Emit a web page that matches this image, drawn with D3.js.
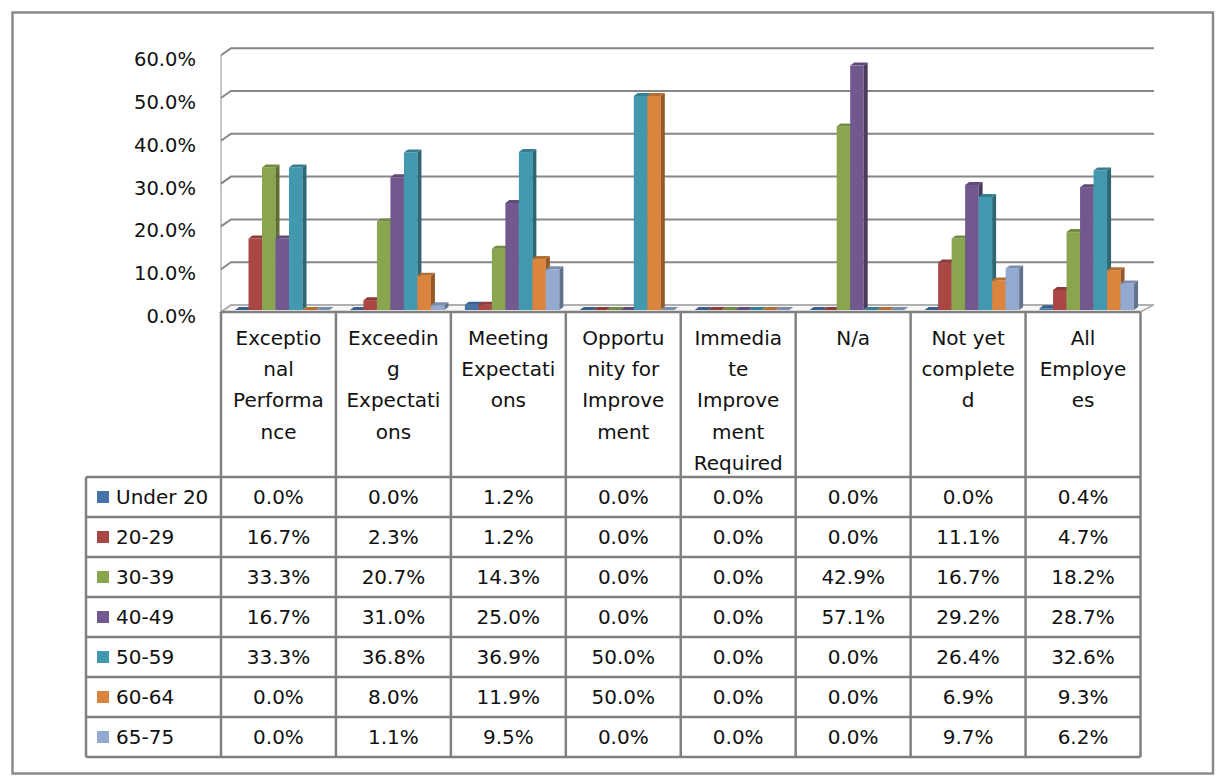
<!DOCTYPE html>
<html>
<head>
<meta charset="utf-8">
<script src="https://cdn.jsdelivr.net/npm/d3@7"></script>
<style>
  html, body { margin: 0; padding: 0; background: #fff; }
  svg { display: block; }
  text { font-family: "DejaVu Sans", sans-serif; fill: #111; }
</style>
</head>
<body>
<svg id="chart" width="1222" height="776"></svg>
<script>
// Performance rating by age group
const categories = [
  "Exceptional Performance", "Exceeding Expectations", "Meeting Expectations",
  "Opportunity for Improvement", "Immediate Improvement Required", "N/a",
  "Not yet completed", "All Employees"
];
// Category labels as they wrap inside the data-table header cells
const categoryLines = [
  ["Exceptio", "nal", "Performa", "nce"],
  ["Exceedin", "g", "Expectati", "ons"],
  ["Meeting", "Expectati", "ons"],
  ["Opportu", "nity for", "Improve", "ment"],
  ["Immedia", "te", "Improve", "ment", "Required"],
  ["N/a"],
  ["Not yet", "complete", "d"],
  ["All", "Employe", "es"]
];
const seriesNames = ["Under 20", "20-29", "30-39", "40-49", "50-59", "60-64", "65-75"];
const under20 = [0.0, 0.0, 1.2, 0.0, 0.0, 0.0, 0.0, 0.4];
const age20to29 = [16.7, 2.3, 1.2, 0.0, 0.0, 0.0, 11.1, 4.7];
const age30to39 = [33.3, 20.7, 14.3, 0.0, 0.0, 42.9, 16.7, 18.2];
const age40to49 = [16.7, 31.0, 25.0, 0.0, 0.0, 57.1, 29.2, 28.7];
const age50to59 = [33.3, 36.8, 36.9, 50.0, 0.0, 0.0, 26.4, 32.6];
const age60to64 = [0.0, 8.0, 11.9, 50.0, 0.0, 0.0, 6.9, 9.3];
const age65to75 = [0.0, 1.1, 9.5, 0.0, 0.0, 0.0, 9.7, 6.2];
const yTicks = [0, 10, 20, 30, 40, 50, 60];

const seriesValues = [under20, age20to29, age30to39, age40to49, age50to59, age60to64, age65to75];
const colors = ["#4572A7", "#AA4643", "#89A54E", "#71588F", "#4198AF", "#DB843D", "#93A9CF"];

const svg = d3.select("#chart");
const fmt = v => v.toFixed(1) + "%";

// Layout
const tableLeft = 86, plotLeft = 221, plotRight = 1140.5;
const headerTop = 312, rowsTop = 477, rowH = 40;
const wallDx = 10, wallDy = 7;   // depth of the walls
const barDx = 4, barDy = 3;      // depth of each column

const x = d3.scaleBand().domain(categories).range([plotLeft, plotRight]);
const xs = d3.scaleBand().domain(seriesNames).range([14, 14 + 7 * 13.5]);
const y = d3.scaleLinear().domain([0, 60]).range([310, 310 - 6 * 42.8]);
const yWall = v => y(v) + 2;

// outer chart frame
svg.append("rect").attr("x", 12.5).attr("y", 12.5).attr("width", 1200.5).attr("height", 761)
  .attr("fill", "#fff").attr("stroke", "#8a8a8a").attr("stroke-width", 2.5);

// floor
const floorY = yWall(0);
svg.append("polygon")
  .attr("points", [[plotLeft, floorY], [plotRight, floorY], [plotRight + 13, floorY - wallDy],
                   [plotLeft + wallDx, floorY - wallDy]].join(" "))
  .attr("fill", "#f7f7f7").attr("stroke", "#a8a8a8").attr("stroke-width", 1.5);

// left wall edge
svg.append("line").attr("x1", plotLeft).attr("x2", plotLeft)
  .attr("y1", yWall(60)).attr("y2", floorY).attr("stroke", "#b5b5b5").attr("stroke-width", 1.5);

// gridlines on the side and back walls
const grid = svg.append("g");
yTicks.forEach(t => {
  const yf = yWall(t), yb = yf - wallDy;
  grid.append("polyline")
    .attr("points", [[plotLeft, yf], [plotLeft + wallDx, yb], [plotRight + 13.5, yb]].join(" "))
    .attr("fill", "none").attr("stroke", t === 0 ? "#b0b0b0" : "#878787").attr("stroke-width", 2);
});

// y axis labels
svg.append("g").selectAll("text").data(yTicks).join("text")
  .attr("x", 196).attr("y", d => yWall(d) + 11)
  .attr("text-anchor", "end").attr("font-size", 19.5)
  .text(d => d.toFixed(1) + "%");

// 3D columns
const shade = (c, k) => d3.color(c).darker(k).formatHex();
const bars = svg.append("g");
categories.forEach((cat, ci) => {
  seriesNames.forEach((s, si) => {
    const v = seriesValues[si][ci];
    const x0 = x(cat) + xs(s), w = xs.bandwidth();
    const yt = y(v), yb = y(0);
    const g = bars.append("g");
    g.append("rect").attr("x", x0).attr("y", yt).attr("width", w).attr("height", yb - yt)
      .attr("fill", colors[si]);
    g.append("polygon")
      .attr("points", [[x0 + w, yt], [x0 + w + barDx, yt - barDy], [x0 + w + barDx, yb - barDy], [x0 + w, yb]].join(" "))
      .attr("fill", shade(colors[si], 1.1));
    g.append("polygon")
      .attr("points", [[x0, yt], [x0 + barDx, yt - barDy], [x0 + w + barDx, yt - barDy], [x0 + w, yt]].join(" "))
      .attr("fill", shade(colors[si], 0.5));
  });
});

// data table
const tableStroke = "#808080", tsw = 2.5;
const table = svg.append("g");
const nRows = seriesNames.length;
const tableBottom = rowsTop + nRows * rowH;

// horizontal rules
table.append("line").attr("x1", plotLeft).attr("x2", plotRight).attr("y1", headerTop).attr("y2", headerTop)
  .attr("stroke", tableStroke).attr("stroke-width", tsw);
d3.range(nRows + 1).forEach(i => {
  const yy = rowsTop + i * rowH;
  table.append("line").attr("x1", tableLeft).attr("x2", plotRight).attr("y1", yy).attr("y2", yy)
    .attr("stroke", tableStroke).attr("stroke-width", tsw);
});
// vertical rules
table.append("line").attr("x1", tableLeft).attr("x2", tableLeft).attr("y1", rowsTop).attr("y2", tableBottom)
  .attr("stroke", tableStroke).attr("stroke-width", tsw);
categories.concat([null]).forEach((cat, i) => {
  const xx = cat === null ? plotRight : x(cat);
  table.append("line").attr("x1", xx).attr("x2", xx).attr("y1", headerTop).attr("y2", tableBottom)
    .attr("stroke", tableStroke).attr("stroke-width", tsw);
});

// header labels
categories.forEach((cat, ci) => {
  const cx = x(cat) + x.bandwidth() / 2;
  const t = table.append("text").attr("text-anchor", "middle").attr("font-size", 20);
  categoryLines[ci].forEach((line, li) => {
    t.append("tspan").attr("x", cx).attr("y", 345 + li * 31.2).text(line);
  });
});

// legend keys and values
seriesNames.forEach((s, si) => {
  const cy = rowsTop + si * rowH + rowH / 2;
  table.append("rect").attr("x", 97).attr("y", cy - 6).attr("width", 12).attr("height", 12)
    .attr("fill", colors[si]);
  table.append("text").attr("x", 116).attr("y", cy + 7).attr("font-size", 20).text(s);
  categories.forEach((cat, ci) => {
    table.append("text").attr("x", x(cat) + x.bandwidth() / 2).attr("y", cy + 7)
      .attr("text-anchor", "middle").attr("font-size", 20)
      .text(fmt(seriesValues[si][ci]));
  });
});
</script>
</body>
</html>
